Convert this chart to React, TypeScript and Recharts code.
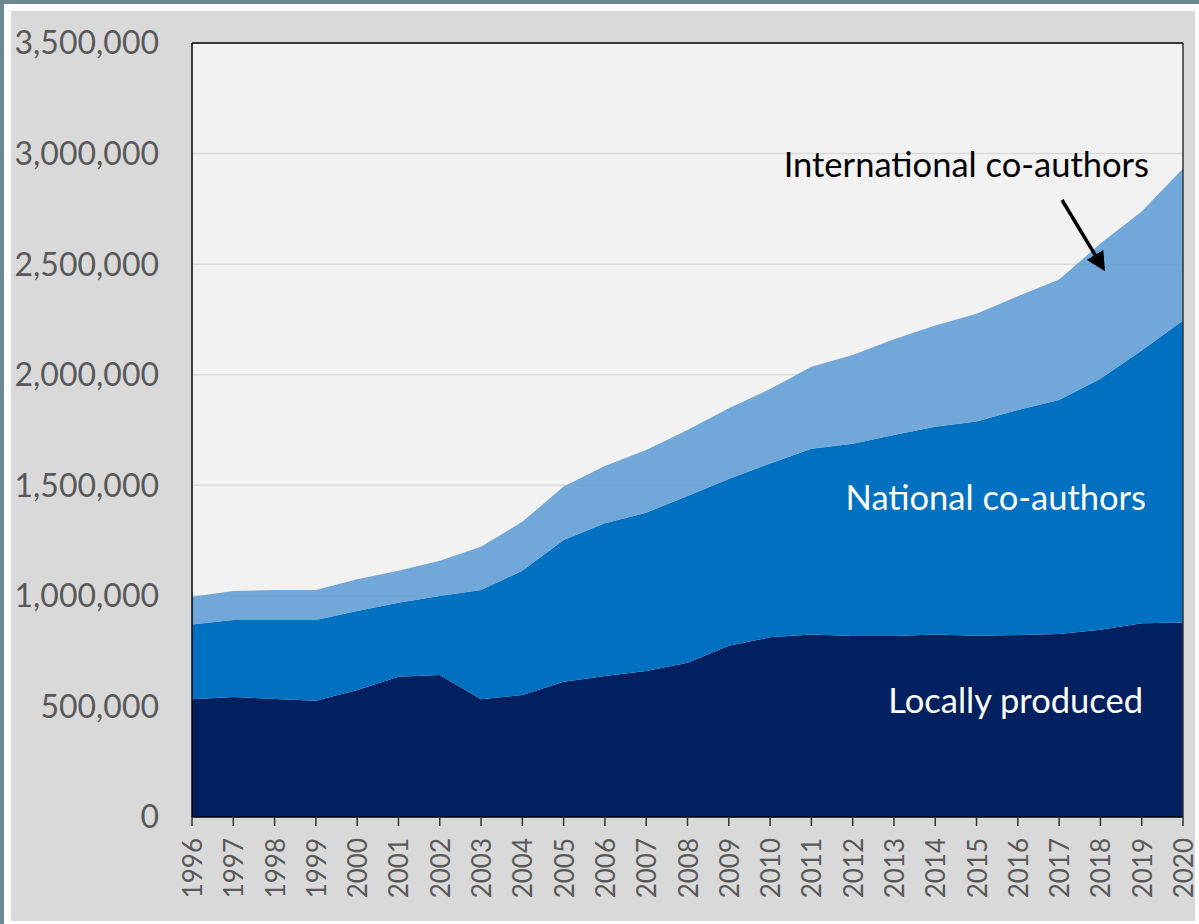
import React from "react";
import {
  Area,
  AreaChart,
  CartesianGrid,
  ReferenceLine,
  XAxis,
  YAxis,
} from "recharts";

const years = [
  1996, 1997, 1998, 1999, 2000, 2001, 2002, 2003, 2004, 2005, 2006, 2007, 2008,
  2009, 2010, 2011, 2012, 2013, 2014, 2015, 2016, 2017, 2018, 2019, 2020,
];

// publications, in thousands
const locallyProduced = [
  532, 543, 534, 526, 574, 634, 642, 532, 552, 612, 638, 660, 697, 774, 813,
  825, 818, 819, 825, 820, 823, 828, 847, 876, 879,
];
const nationalCoAuthors = [
  339, 348, 357, 365, 358, 335, 357, 494, 562, 641, 690, 716, 755, 754, 786,
  840, 870, 908, 940, 968, 1017, 1058, 1135, 1234, 1366,
];
const internationalCoAuthors = [
  125, 131, 135, 135, 143, 145, 160, 196, 221, 241, 259, 284, 298, 320, 336,
  371, 401, 433, 457, 488, 515, 544, 611, 628, 688,
];

const yTicks = [0, 500000, 1000000, 1500000, 2000000, 2500000, 3000000, 3500000];

const data = years.map((year, i) => ({
  year,
  local: locallyProduced[i] * 1000,
  national: nationalCoAuthors[i] * 1000,
  international: internationalCoAuthors[i] * 1000,
}));

const FONT = "Lato, 'Open Sans', sans-serif";

const YearTick = (props: any) => {
  const { x, y, payload } = props;
  return (
    <text
      transform={`translate(${x}, ${y + 10}) rotate(-90)`}
      textAnchor="end"
      dominantBaseline="central"
      fill="#595959"
      fontSize={26}
      fontFamily={FONT}
    >
      {payload.value}
    </text>
  );
};

export default function App() {
  return (
    <div
      style={{
        position: "absolute",
        left: 0,
        top: 0,
        width: 1199,
        height: 924,
        background: "#ffffff",
        borderTop: "4px solid #6d8891",
        borderLeft: "4px solid #6d8891",
        boxSizing: "border-box",
        fontFamily: FONT,
      }}
    >
      <div
        style={{
          position: "absolute",
          left: 7,
          top: 7,
          width: 1184,
          height: 910,
          background: "#d9d9d9",
        }}
      >
        <AreaChart
          width={1188}
          height={910}
          data={data}
          margin={{ top: 32, right: 16, left: 0, bottom: 0 }}
        >
          <CartesianGrid
            vertical={false}
            stroke="#d9d9d9"
            strokeWidth={1.5}
            fill="#f2f2f2"
            fillOpacity={1}
          />
          <XAxis
            dataKey="year"
            height={104}
            interval={0}
            tickSize={9}
            tickMargin={2}
            axisLine={{ stroke: "#000000", strokeWidth: 1.5 }}
            tickLine={{ stroke: "#333333", strokeWidth: 1.5 }}
            tick={<YearTick />}
          />
          <YAxis
            width={181}
            domain={[0, 3500000]}
            ticks={yTicks}
            interval={0}
            tickLine={false}
            tickSize={0}
            tickMargin={33}
            axisLine={{ stroke: "#000000", strokeWidth: 1.5 }}
            tickFormatter={(v: number) => v.toLocaleString("en-US")}
            tick={{ fill: "#595959", fontSize: 32, fontFamily: FONT }}
          />
          <Area
            type="linear"
            dataKey="local"
            stackId="a"
            stroke="none"
            fill="#002060"
            fillOpacity={1}
            isAnimationActive={false}
          />
          <Area
            type="linear"
            dataKey="national"
            stackId="a"
            stroke="none"
            fill="#0070c0"
            fillOpacity={1}
            isAnimationActive={false}
          />
          <Area
            type="linear"
            dataKey="international"
            stackId="a"
            stroke="none"
            fill="#5b9bd5"
            fillOpacity={0.85}
            isAnimationActive={false}
          />
          <ReferenceLine y={3500000} stroke="#000000" strokeWidth={1.5} />
          <ReferenceLine x={2020} stroke="#333333" strokeWidth={1.5} />
        </AreaChart>
      </div>
      <svg
        width={1199}
        height={924}
        style={{ position: "absolute", left: -4, top: -4, pointerEvents: "none" }}
      >
        <defs>
          <marker
            id="arrowHead"
            viewBox="0 0 10 10"
            refX="8"
            refY="5"
            markerWidth="5.5"
            markerHeight="5.5"
            orient="auto"
          >
            <path d="M0,0 L10,5 L0,10 z" fill="#000000" />
          </marker>
        </defs>
        <text
          x={1149}
          y={177}
          textAnchor="end"
          fontSize={34.5}
          fontFamily={FONT}
          fill="#000000"
        >
          International co-authors
        </text>
        <line
          x1={1062}
          y1={200}
          x2={1103}
          y2={268}
          stroke="#000000"
          strokeWidth={3.5}
          markerEnd="url(#arrowHead)"
        />
        <text
          x={1146}
          y={510}
          textAnchor="end"
          fontSize={34.5}
          fontFamily={FONT}
          fill="#ffffff"
        >
          National co-authors
        </text>
        <text
          x={1143}
          y={713}
          textAnchor="end"
          fontSize={34.5}
          fontFamily={FONT}
          fill="#ffffff"
        >
          Locally produced
        </text>
      </svg>
    </div>
  );
}
